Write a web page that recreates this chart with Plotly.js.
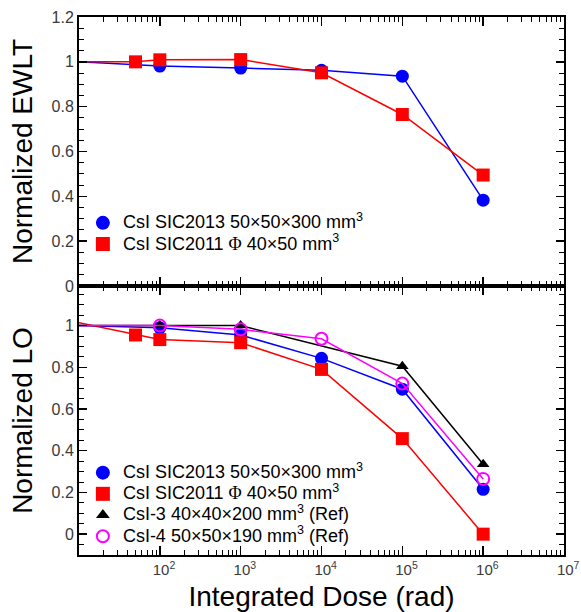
<!DOCTYPE html>
<html>
<head>
<meta charset="utf-8">
<script src="https://cdn.plot.ly/plotly-3.0.1.min.js"></script>
<style>html,body{margin:0;padding:0;background:#fff;}</style>
</head>
<body>
<div id="chart" style="width:581px;height:612px;"></div>
<script>
// ---- Data ----
// Top panel: Normalized EWLT vs integrated dose (rad)
const ewltDose2013 = [10, 100, 1e3, 1e4, 1e5, 1e6];
const ewlt2013     = [1.0, 0.981, 0.972, 0.962, 0.936, 0.383];
const ewltDose2011 = [10, 50, 100, 1e3, 1e4, 1e5, 1e6];
const ewlt2011     = [1.0, 1.0, 1.009, 1.01, 0.951, 0.765, 0.495];

// Bottom panel: Normalized LO vs integrated dose (rad)
const loDose2013 = [10, 100, 1e3, 1e4, 1e5, 1e6];
const lo2013     = [1.0, 0.99, 0.955, 0.843, 0.695, 0.215];
const loDose2011 = [10, 50, 100, 1e3, 1e4, 1e5, 1e6];
const lo2011     = [1.014, 0.955, 0.933, 0.918, 0.79, 0.458, 0.0];
const loDoseCsI3 = [10, 100, 1e3, 1e5, 1e6];
const loCsI3     = [1.0, 1.0, 1.0, 0.805, 0.335];
const loDoseCsI4 = [10, 100, 1e3, 1e4, 1e5, 1e6];
const loCsI4     = [1.0, 1.0, 0.982, 0.937, 0.722, 0.265];

// Legend labels
const labels = [
  'CsI SIC2013 50×50×300 mm<sup>3</sup>',
  'CsI SIC2011 <span style="font-family:\'Liberation Serif\'">Φ</span> 40×50 mm<sup>3</sup>',
  'CsI-3 40×40×200 mm<sup>3</sup> (Ref)',
  'CsI-4 50×50×190 mm<sup>3</sup> (Ref)'
];

// Axis ticks
const majorTickVals = [10, 100, 1e3, 1e4, 1e5, 1e6, 1e7];
const majorTickText = [' ', '10<sup>2</sup>', '10<sup>3</sup>', '10<sup>4</sup>', '10<sup>5</sup>', '10<sup>6</sup>', '10<sup>7</sup>']
  .map((t, i) => i === 0 ? t : '\u00a0\u00a0' + t);
const minorTickVals = [];
for (let e = 1; e < 7; e++) for (let m = 2; m <= 9; m++) minorTickVals.push(m * Math.pow(10, e));

// ---- Styles ----
const FONT = 'Liberation Sans, Arial, sans-serif';
const BLUE = '#0000ff', RED = '#ff0000', BLACK = '#000000', MAG = '#ff00ff';
const MS = 13;
const sizes = (arr, s) => arr.map((_, i) => i === 0 ? 0 : s); // first point is the undosed reference (no marker)
const big = t => '<span style="font-size:18px">' + t + '</span>';

function line(x, y, color, symbol, size, xa, ya, open) {
  return {
    x: x, y: y, xaxis: xa, yaxis: ya, type: 'scatter', mode: 'lines+markers',
    showlegend: false, hoverinfo: 'skip',
    line: {color: color, width: 1.5},
    marker: {
      symbol: symbol, size: sizes(x, size), opacity: 1,
      color: open ? 'rgba(0,0,0,0)' : color,
      line: {color: color, width: open ? 2 : 0}
    }
  };
}
function legendItem(name, color, symbol, size, xa, ya, legend, open) {
  return {
    x: [null], y: [null], xaxis: xa, yaxis: ya, type: 'scatter', mode: 'markers',
    name: big(name), legend: legend, showlegend: true,
    marker: {symbol: symbol, size: size, opacity: 1, color: open ? 'rgba(0,0,0,0)' : color,
             line: {color: color, width: open ? 2 : 0}}
  };
}

const traces = [
  line(ewltDose2013, ewlt2013, BLUE, 'circle', MS, 'x', 'y'),
  line(ewltDose2011, ewlt2011, RED, 'square', MS, 'x', 'y'),
  legendItem(labels[0], BLUE, 'circle', 14, 'x', 'y', 'legend'),
  legendItem(labels[1], RED, 'square', 14, 'x', 'y', 'legend'),

  line(loDose2013, lo2013, BLUE, 'circle', MS, 'x2', 'y2'),
  line(loDose2011, lo2011, RED, 'square', MS, 'x2', 'y2'),
  line(loDoseCsI3, loCsI3, BLACK, 'triangle-up', 11, 'x2', 'y2'),
  line(loDoseCsI4, loCsI4, MAG, 'circle', 12, 'x2', 'y2', true),
  legendItem(labels[0], BLUE, 'circle', 14, 'x2', 'y2', 'legend2'),
  legendItem(labels[1], RED, 'square', 14, 'x2', 'y2', 'legend2'),
  legendItem(labels[2], BLACK, 'triangle-up', 12, 'x2', 'y2', 'legend2'),
  legendItem(labels[3], MAG, 'circle', 12, 'x2', 'y2', 'legend2', true)
];

const tickFont = {family: FONT, size: 16, color: '#3a3a3a'};
const xCommon = {
  type: 'log', range: [1, 7], showgrid: false, zeroline: false,
  showline: true, linecolor: 'black', linewidth: 2, mirror: 'ticks',
  ticks: 'inside', ticklen: 9, tickwidth: 1.5, tickcolor: 'black',
  tickmode: 'array', tickvals: majorTickVals, ticktext: majorTickText,
  minor: {ticks: 'inside', ticklen: 5, tickwidth: 1, tickcolor: 'black', tickmode: 'array', tickvals: minorTickVals, showgrid: false},
  tickfont: {family: FONT, size: 15, color: '#3a3a3a'}
};
const yCommon = {
  showgrid: false, zeroline: false,
  showline: true, linecolor: 'black', linewidth: 2, mirror: 'ticks',
  ticks: 'inside', ticklen: 8, tickwidth: 1.5, tickcolor: 'black',
  tick0: 0, dtick: 0.2,
  minor: {ticks: 'inside', ticklen: 5, tickwidth: 1, tickcolor: 'black', dtick: 0.05, showgrid: false},
  tickfont: tickFont
};

const legendFont = {family: FONT, size: 14, color: 'black'};
const layout = {
  width: 581, height: 612,
  margin: {l: 79, r: 17, t: 17, b: 57},
  paper_bgcolor: 'white', plot_bgcolor: 'white',
  font: {family: FONT, color: 'black'},
  xaxis: Object.assign({}, xCommon, {domain: [0, 1], anchor: 'y', showticklabels: false}),
  yaxis: Object.assign({}, yCommon, {domain: [0.5, 1], anchor: 'x', range: [0, 1.2],
    title: {text: 'Normalized EWLT', font: {family: FONT, size: 28, color: 'black'}, standoff: 11}}),
  xaxis2: Object.assign({}, xCommon, {domain: [0, 1], anchor: 'y2',
    title: {text: 'Integrated Dose (rad)', font: {family: FONT, size: 28, color: 'black'}, standoff: 10}}),
  yaxis2: Object.assign({}, yCommon, {domain: [0, 0.5], anchor: 'x2', range: [-0.1, 1.19],
    title: {text: 'Normalized LO', font: {family: FONT, size: 28, color: 'black'}, standoff: 11}}),
  legend: {x: 0.008, y: 0.6464, xanchor: 'left', yanchor: 'top', bgcolor: 'rgba(0,0,0,0)',
           font: legendFont, tracegroupgap: 0},
  legend2: {x: 0.008, y: 0.1821, xanchor: 'left', yanchor: 'top', bgcolor: 'rgba(0,0,0,0)',
            font: legendFont, tracegroupgap: 0},
  showlegend: true
};

Plotly.newPlot('chart', traces, layout, {displayModeBar: false, staticPlot: true});
</script>
</body>
</html>
